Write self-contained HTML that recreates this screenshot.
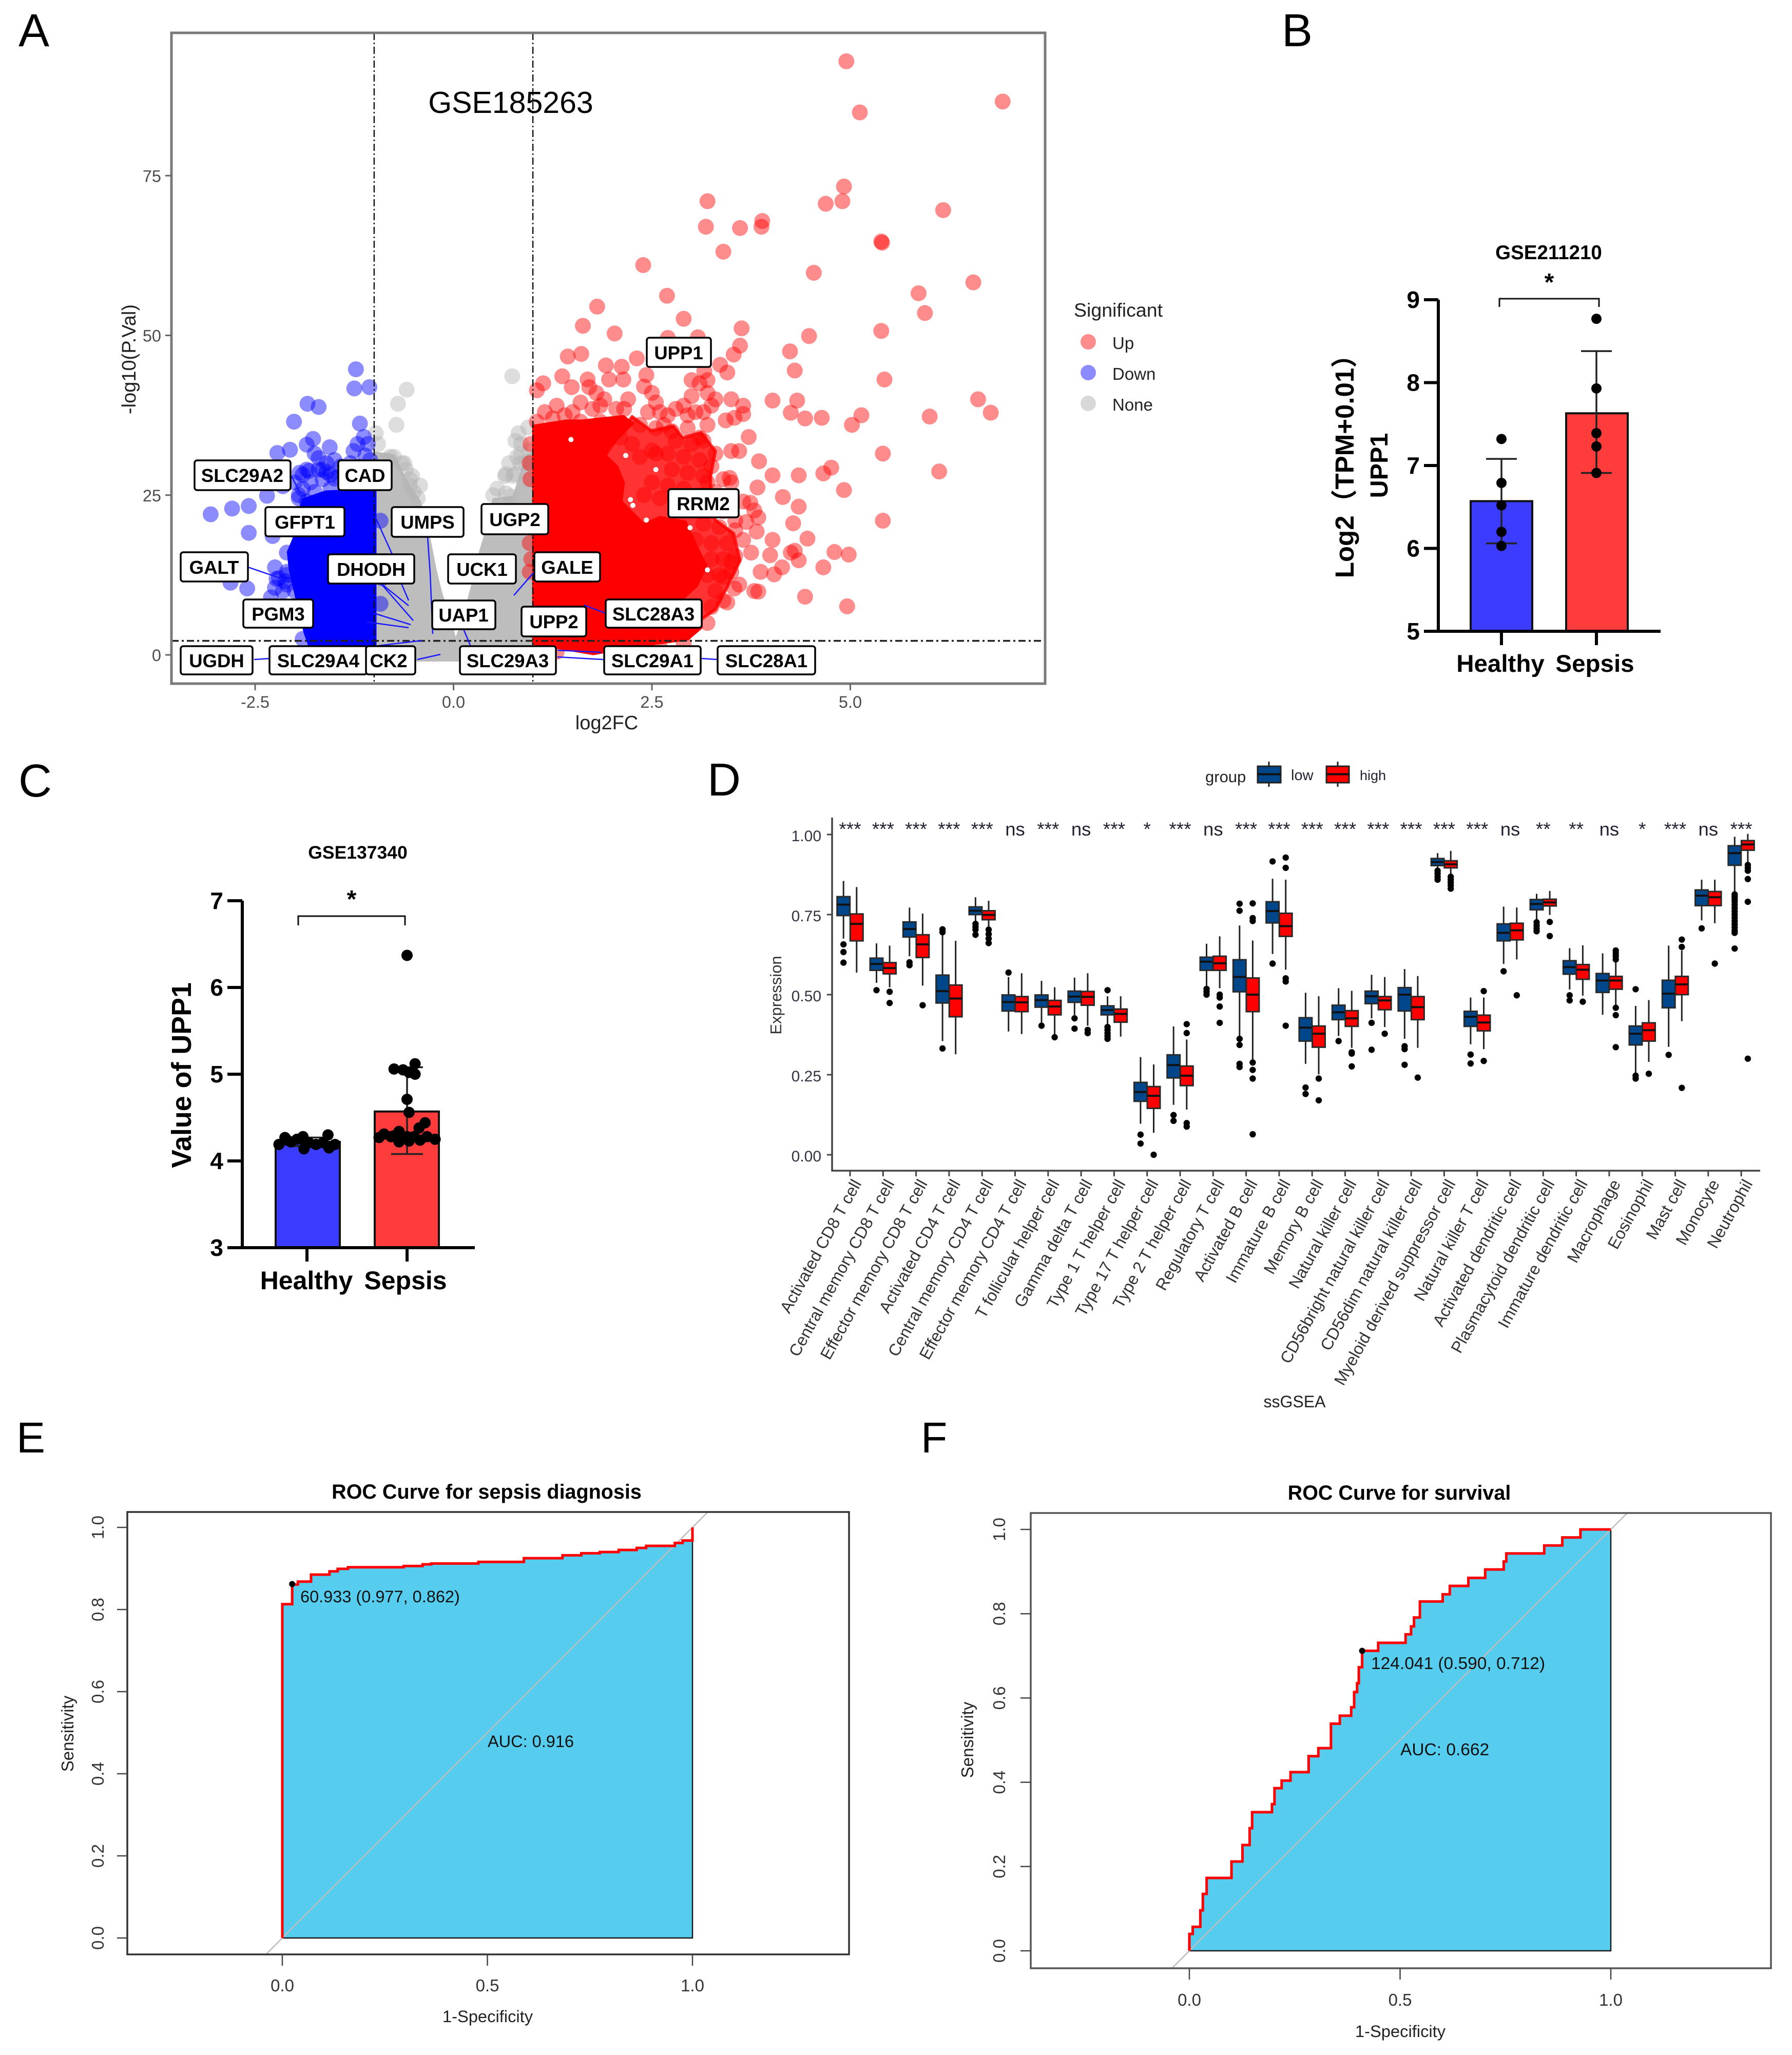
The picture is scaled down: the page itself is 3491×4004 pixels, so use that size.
<!DOCTYPE html>
<html lang="en">
<head>
<meta charset="utf-8">
<title>UPP1 multi-panel figure</title>
<style>
html,body{margin:0;padding:0;background:#fff;width:3491px;height:4004px;overflow:hidden}
svg{display:block}
text{font-family:"Liberation Sans","Noto Sans CJK SC",sans-serif}
.pl{font-size:90px;fill:#000}
.gl rect{fill:#fff;stroke:#000;stroke-width:3.5}
.gl text{font-size:36.5px;font-weight:700;text-anchor:middle;fill:#000}
.ln{stroke:#1a1aff;stroke-width:2.5;fill:none}
</style>
</head>
<body>
<svg id="fig" xmlns="http://www.w3.org/2000/svg" width="3491" height="4004" viewBox="0 0 3491 4004">
<rect width="3491" height="4004" fill="#fff"/>
<text class="pl" x="36" y="90">A</text>
<text class="pl" x="2497" y="90">B</text>
<text class="pl" x="36" y="1552">C</text>
<text class="pl" x="1378" y="1550">D</text>
<text class="pl" x="32" y="2830" style="font-size:84px">E</text>
<text class="pl" x="1794" y="2830" style="font-size:84px">F</text>

<g id="panelA">
<g id="volcanoPoints"></g>
<g id="volcanoAxes"></g>
<g>
<path class="ln" d="M483 1105L568 1134M568 928L586 963M731 1007L764 1080M782 1137L796 1170M833 1046L838 1117L843 1235M742 1137L805 1209M746 1140L796 1180M729 1195L800 1217M715 1212L796 1223M1001 1160L1041 1114M1138 1179L1180 1195M903 1226L916 1257M738 1258L822 1248M813 1285L858 1275M1086 1267L1171 1271M1086 1280L1175 1285M495 1285L525 1283M1367 1283L1398 1285"/>
</g>
<g class="gl">
<g><rect x="379" y="897" width="187" height="58" rx="5"/><text x="472" y="939">SLC29A2</text></g>
<g><rect x="659" y="897" width="104" height="58" rx="5"/><text x="711" y="939">CAD</text></g>
<g><rect x="517" y="988" width="154" height="57" rx="5"/><text x="594" y="1030">GFPT1</text></g>
<g><rect x="763" y="988" width="140" height="58" rx="5"/><text x="833" y="1030">UMPS</text></g>
<g><rect x="938" y="982" width="130" height="59" rx="5"/><text x="1003" y="1025">UGP2</text></g>
<g><rect x="1302" y="953" width="137" height="55" rx="5"/><text x="1370" y="994">RRM2</text></g>
<g><rect x="352" y="1076" width="131" height="57" rx="5"/><text x="417" y="1118">GALT</text></g>
<g><rect x="639" y="1080" width="168" height="57" rx="5"/><text x="723" y="1122">DHODH</text></g>
<g><rect x="873" y="1080" width="132" height="57" rx="5"/><text x="939" y="1122">UCK1</text></g>
<g><rect x="1041" y="1076" width="128" height="57" rx="5"/><text x="1105" y="1118">GALE</text></g>
<g><rect x="474" y="1168" width="136" height="55" rx="5"/><text x="542" y="1209">PGM3</text></g>
<g><rect x="842" y="1170" width="123" height="56" rx="5"/><text x="903" y="1211">UAP1</text></g>
<g><rect x="1016" y="1182" width="126" height="58" rx="5"/><text x="1079" y="1224">UPP2</text></g>
<g><rect x="1180" y="1168" width="187" height="55" rx="5"/><text x="1273" y="1209">SLC28A3</text></g>
<g><rect x="352" y="1259" width="140" height="55" rx="5"/><text x="422" y="1300">UGDH</text></g>
<g><rect x="525" y="1259" width="190" height="55" rx="5"/><text x="620" y="1300">SLC29A4</text></g>
<g><rect x="713" y="1259" width="96" height="55" rx="5"/><text x="757" y="1300">CK2</text></g>
<g><rect x="896" y="1259" width="187" height="55" rx="5"/><text x="989" y="1300">SLC29A3</text></g>
<g><rect x="1177" y="1259" width="188" height="55" rx="5"/><text x="1271" y="1300">SLC29A1</text></g>
<g><rect x="1398" y="1259" width="190" height="55" rx="5"/><text x="1493" y="1300">SLC28A1</text></g>
<g><rect x="1260" y="658" width="125" height="57" rx="5"/><text x="1322" y="700">UPP1</text></g>
</g>
<text x="995" y="220" font-size="59" text-anchor="middle">GSE185263</text>
<text x="1182" y="1421" font-size="38" fill="#222" text-anchor="middle">log2FC</text>
<text transform="translate(264,700) rotate(-90)" font-size="38" fill="#222" text-anchor="middle">-log10(P.Val)</text>
<g>
<text x="2092" y="617" font-size="37.5" fill="#222">Significant</text>
<circle cx="2120" cy="666" r="15" fill="#ff0000" fill-opacity=".45"/>
<text x="2167" y="680" font-size="33" fill="#222">Up</text>
<circle cx="2120" cy="726" r="15" fill="#0000ff" fill-opacity=".45"/>
<text x="2167" y="740" font-size="33" fill="#222">Down</text>
<circle cx="2120" cy="786" r="15" fill="#b8b8b8" fill-opacity=".55"/>
<text x="2167" y="800" font-size="33" fill="#222">None</text>
</g>
</g>

<g id="panelB">
<text x="3017" y="505" font-size="38.5" font-weight="700" text-anchor="middle">GSE211210</text>
<text transform="translate(2637,896) rotate(-90)" font-size="51" font-weight="700" text-anchor="middle">Log2（TPM+0.01）</text>
<text transform="translate(2703,907) rotate(-90)" font-size="48.5" font-weight="700" text-anchor="middle">UPP1</text>
</g>
<g id="panelC">
<text x="697" y="1673" font-size="35.5" font-weight="700" text-anchor="middle">GSE137340</text>
<text transform="translate(372,2095) rotate(-90)" font-size="53.8" font-weight="700" text-anchor="middle">Value of UPP1</text>
</g>

<g id="panelD">
<text x="2348" y="1524" font-size="31" fill="#222">group</text>
<g>
<path d="M2472 1484V1533" stroke="#222" stroke-width="3"/>
<rect x="2450" y="1493" width="45" height="32" fill="#00468b" stroke="#222" stroke-width="3"/>
<path d="M2450 1508.5H2495" stroke="#111" stroke-width="4"/>
<text x="2515" y="1520" font-size="29" fill="#223">low</text>
</g>
<g>
<path d="M2606 1484V1533" stroke="#222" stroke-width="3"/>
<rect x="2584" y="1493" width="44" height="32" fill="#ff0000" stroke="#222" stroke-width="3"/>
<path d="M2584 1508.5H2628" stroke="#111" stroke-width="4"/>
<text x="2649" y="1520" font-size="27" fill="#223">high</text>
</g>
<text transform="translate(1522,1939) rotate(-90)" font-size="31" fill="#333" text-anchor="middle">Expression</text>
<text x="2522" y="2742" font-size="32" fill="#222" text-anchor="middle">ssGSEA</text>
</g>

<g id="panelE">
<text x="948" y="2920" font-size="39.5" font-weight="700" text-anchor="middle">ROC Curve for sepsis diagnosis</text>
<text x="950" y="3940" font-size="32.7" fill="#222" text-anchor="middle">1-Specificity</text>
<text transform="translate(143,3378) rotate(-90)" font-size="33" fill="#222" text-anchor="middle">Sensitivity</text>
</g>
<g id="panelF">
<text x="2726" y="2922" font-size="39.5" font-weight="700" text-anchor="middle">ROC Curve for survival</text>
<text x="2728" y="3969" font-size="32.7" fill="#222" text-anchor="middle">1-Specificity</text>
<text transform="translate(1896,3390) rotate(-90)" font-size="33" fill="#222" text-anchor="middle">Sensitivity</text>
</g>
</svg>

<script>
/* ---------- Panel A: volcano data (log2FC, -log10 P) ---------- */
const volcanoXTicks = [-2.5, 0, 2.5, 5];
const volcanoXTickLabels = ['-2.5', '0.0', '2.5', '5.0'];
const volcanoYTicks = [0, 25, 50, 75];
const volcanoFcCutoffs = [-1, 1];
const volcanoPCutoff = [2.2];
/* dense-cloud outlines */
const noneCloud = [[-.99,31.6],[-.75,31.1],[-.62,27.6],[-.43,24],[-.31,18.2],[-.23,13.2],[-.16,9.6],[-.05,5.7],[.02,2.2],[.04,2.5],[.14,6.1],[.24,10.8],[.34,16.1],[.42,19.4],[.51,24.3],[.76,24.7],[.93,31.2],[1,31.6],[1,-.8],[-1,-.8]];
const downCloud = [[-.99,25.8],[-1.61,25.5],[-1.89,24.3],[-1.99,20.4],[-2.01,18.2],[-2.08,16.1],[-2.06,13.6],[-2.01,10.8],[-1.94,7.1],[-1.87,3.5],[-1.81,1.4],[-.99,1]];
const upOuterCloud = [[2.25,37.3],[2.49,35.1],[2.77,35.8],[2.89,34],[3.12,34.8],[3.3,31.9],[3.24,28],[3.24,25.5],[3.3,21.1],[3.53,19],[3.61,14.7],[3.44,10.4],[3.3,7.1],[3.1,5.4],[2.5,5],[2,20],[1.9,31]];
const upCloud = [[1.01,35.8],[1.42,36.6],[1.62,36.6],[2.14,37.3],[2.25,36.2],[1.96,32.6],[1.91,31.2],[2.06,29.4],[2.14,26.9],[2.11,24],[2.25,22.2],[2.4,20.4],[2.6,21.5],[2.92,20.8],[3.06,16.9],[3.18,14],[3.06,10.8],[2.83,8.2],[3.12,6.8],[3.12,4.3],[2.95,2.5],[2.31,1.4],[1.76,.2],[1.01,1.8]];
const upCloudGaps = [[2.23,24.3],[1.48,33.7],[2.55,29],[2.43,21.1],[2.98,19.9],[3.2,13.3],[2.17,31.2],[2.26,23.4]];
const nonePoints = [[.74,43.6],[-.59,41.5],[-.7,39.3],[-.72,36],[-.98,34.7],[.94,35.6],[.82,34.7],[.78,33.5],[.85,31.5],[.84,30],[.66,28.3],[.78,28.3],[.66,25.3],[.72,24.8],[.55,26],[.65,28],[.7,30],[.75,28],[.8,31],[.85,33],[.95,32],[.9,30],[.5,25],[-.95,33],[-.85,30.5],[-.75,31],[-.65,30],[-.55,27.5],[-.5,25.5],[-.45,24.5],[-.6,29],[-.52,28],[-.42,26.5],[-.62,30],[-.8,31],[-.55,26.5]];
const downPoints = [[-1.23,44.7],[-1.25,41.7],[-1.06,41.9],[-1.84,39.3],[-1.7,38.8],[-2.01,36.5],[-1.18,36.2],[-1.77,33.8],[-1.13,34.1],[-1.85,32.9],[-1.56,32.5],[-2.06,32.1],[-2.22,31.6],[-1.21,33],[-1.08,33],[-1.26,31.9],[-1.7,30.8],[-1.11,31.2],[-1.85,29],[-1.7,29],[-1.6,28.6],[-1.9,28.2],[-2.35,24.9],[-2.15,26.4],[-3.06,22],[-2.79,22.9],[-2.58,23.3],[-2.58,19.1],[-2.28,18.6],[-2.25,13.7],[-2.23,11.9],[-2.81,11.3],[-2.6,10.4],[-2.3,9],[-2.1,13],[-2.12,11.5],[-1.75,31.5],[-1.6,30],[-1.5,30.5],[-1.95,25],[-1.85,24],[-2.05,20],[-2.1,16],[-2,10],[-1.95,6],[-1.9,2.5],[-1.8,27],[-1.65,27.5],[-1.45,28],[-1.3,28.5],[-1.1,28.5],[-1,29],[-1.75,25.5],[-1.55,26],[-1.35,27],[-1.2,29.5],[-1.1,26.5],[-1.9,26],[-1.3,30],[-1.42,29.5],[-1.05,30.5],[-1.2,.8],[-1.05,.8],[-1.35,.5],[-1.94,28.5],[-1.82,28.8],[-1.65,29],[-1.55,28.2],[-1.5,27.6],[-2,27],[-2.2,12],[-2.1,11],[-2.25,10.5],[-2.1,12.5],[-2.15,10],[-.92,21],[-.9,12],[-.92,8],[-1.95,24.5],[-1.6,.6],[-1.7,1]];
const upPoints = [[4.95,92.9],[6.92,86.6],[5.12,84.9],[4.92,73.3],[4.9,71],[4.69,70.6],[6.17,69.6],[3.2,71],[3.18,67],[3.61,66.8],[3.89,67.9],[3.88,67],[5.39,64.7],[5.4,64.5],[3.4,63.1],[2.39,61],[4.54,59.8],[6.55,58.3],[5.86,56.6],[2.69,56.2],[5.94,53.5],[1.81,54.5],[2.9,52.6],[1.63,51.5],[3.63,51.1],[5.39,50.7],[2.03,50.3],[4.48,49.9],[2.7,49.6],[3.08,49.7],[3.61,48.4],[4.24,47.5],[3.53,47],[1.44,46.7],[1.61,47.1],[2.31,46.4],[4.3,44.5],[3.36,45.4],[3.45,44.2],[1.92,45.3],[2.12,45.1],[2.43,43.8],[3.16,44.4],[1.37,43.6],[1.96,43.1],[2.14,43.1],[1.69,43.1],[1.13,42.5],[1.05,41.4],[1.49,41.9],[1.71,41.9],[5.43,43.1],[4.02,39.8],[4.33,39.8],[6.61,40],[6.77,37.9],[4.25,37.9],[4.43,37],[4.64,37.1],[5.14,37.5],[5.02,36],[6,37.3],[3.5,40],[3.65,39],[3.65,37.7],[3.43,36.7],[3.54,37.1],[3.72,34.1],[3.5,31.9],[3.6,31.9],[5.41,31.5],[4.76,29.3],[4.66,28.4],[6.12,28.7],[4.35,28.1],[4.02,28.1],[3.85,30.3],[3.48,27.7],[3.83,26.2],[4.92,25.8],[4.15,24.7],[4.35,23.2],[3.74,23.8],[3.79,22.6],[3.84,21.5],[3.69,20.8],[5.41,21],[4.28,20.6],[3.82,19.3],[4.02,18],[4.46,18.2],[4.8,16.1],[4.98,15.7],[4.3,16.3],[4.35,14.8],[4.25,16],[3.99,15.6],[4.14,13.7],[4.66,13.7],[4.04,12.6],[3.87,13],[3.79,10],[3.84,9.9],[3.54,10.4],[3.5,14.5],[3.4,12.2],[4.43,9.1],[4.96,7.6],[3.45,8.2],
[1.9,40],[1.85,39],[1.75,38.5],[1.8,41],[2.2,40],[2.15,38.5],[2.4,42],[2.5,41],[2.55,39.5],[2.45,38],[2.6,38],[2.7,37.5],[2.8,38.5],[2.9,39],[2.95,37.5],[3.05,38],[3.15,38],[3.25,39],[3.2,41],[3.1,42.5],[3,43],[3.2,43],[3.3,40],[3,40.5],[2.65,36],[2.75,35],[2.55,35.5],[2.35,36],[2.95,35.5],[3.2,36],[2.05,38.5],[1.15,38],[1.3,39],[1.5,38],[1.6,39.5],[1.25,37],[1.4,37.5],[1.6,36.5],[1.85,36.5],[2.8,33.5],[3,33],[3.1,34],[3.15,33.5],[3.3,31.5],[3.25,29.5],[3.15,28],[2.9,31],[2.7,31.5],[2.5,32],[2.35,31],[2.55,31.5],[2.75,29],[2.95,28.5],[3.1,30.5],[3.2,27],[3.4,27.5],[3.5,27],[3.3,25.5],[3.1,25],[2.9,26],[2.7,26.5],[2.5,27],[2.4,25],[2.6,24.5],[2.8,24],[3,23],[3.2,23],[3.4,22.5],[3.55,21],[3.65,24],[3.55,19.5],[3.35,20],[3.15,20.5],[3.05,18],[3.25,17.5],[3.45,17.5],[3.65,18],[3.75,16],[3.55,15.5],[3.4,15],[3.25,15],[3.5,13],[3.35,12.5],[3.2,12.5],[3.6,11],[3.3,10],[3.25,7.5],[3.4,8.5],[3.2,5],[.97,33],[.96,30],[.97,27.5],[.96,13],[.98,15],[.96,17.5],[2.9,1.8],[2.6,1.2],[1.3,.5],[1.05,36.5],[1.95,34.5],[2.1,34],[2.25,33]];

/* ---------- Panels B and C: bars ---------- */
const barGroups = ['Healthy', 'Sepsis'];
const barBTicks = [5, 6, 7, 8, 9];
const barBMeans = [6.57, 7.63];
const barBLower = [6.06, 6.91];
const barBUpper = [7.08, 8.38];
const barBHealthyDots = [7.32, 6.79, 6.52, 6.2, 6.03];
const barBSepsisDots = [8.77, 7.93, 7.39, 7.23, 6.91];
const barCTicks = [3, 4, 5, 6, 7];
const barCMeans = [4.22, 4.57];
const barCLower = [4.17, 4.08];
const barCUpper = [4.27, 5.08];
const barCHealthyDots = [4.19, 4.27, 4.22, 4.25, 4.28, 4.14, 4.21, 4.19, 4.3, 4.15, 4.19, 4.24, 4.23, 4.21];
const barCHealthySwarm = [-.28, -.22, -.16, -.1, -.04, -.03, .02, .09, .21, .22, .28, -.2, -.02, .16];
const barCSepsisDots = [6.37, 5.06, 5.12, 5.05, 5, 5.02, 4.71, 4.56, 4.44, 4.38, 4.27, 4.31, 4.28, 4.34, 4.22, 4.28, 4.23, 4.24, 4.28, 4.25, 4.28, 4.29];
const barCSepsisSwarm = [0, -.13, .08, -.04, .08, .02, 0, .02, .18, .12, -.28, -.23, -.16, -.08, -.08, 0, .02, .13, .2, .28, .07, -.13];

/* ---------- Panel D: boxplots ---------- */
const cellTypes = ['Activated CD8 T cell','Central memory CD8 T cell','Effector memory CD8 T cell','Activated CD4 T cell','Central memory CD4 T cell','Effector memory CD4 T cell','T follicular helper cell','Gamma delta T cell','Type 1 T helper cell','Type 17 T helper cell','Type 2 T helper cell','Regulatory T cell','Activated B cell','Immature B cell','Memory B cell','Natural killer cell','CD56bright natural killer cell','CD56dim natural killer cell','Myeloid derived suppressor cell','Natural killer T cell','Activated dendritic cell','Plasmacytoid dendritic cell','Immature dendritic cell','Macrophage','Eosinophil','Mast cell','Monocyte','Neutrophil'];
const significance = ['***','***','***','***','***','ns','***','ns','***','*','***','ns','***','***','***','***','***','***','***','***','ns','**','**','ns','*','***','ns','***'];
const boxYTicks = [0, .25, .5, .75, 1];
const boxYTickLabels = ['0.00', '0.25', '0.50', '0.75', '1.00'];
const lowMax = [.855,.66,.772,.689,.804,.555,.543,.553,.495,.305,.401,.659,.716,.862,.506,.52,.562,.58,.942,.491,.775,.815,.645,.629,.465,.653,.859,.993];
const lowQ3 = [.806,.614,.727,.561,.774,.499,.499,.511,.465,.226,.312,.617,.609,.79,.428,.467,.511,.522,.925,.448,.721,.797,.606,.566,.402,.545,.827,.965];
const lowMedian = [.781,.596,.705,.511,.762,.477,.483,.494,.452,.196,.28,.603,.555,.761,.397,.445,.495,.5,.914,.431,.693,.783,.586,.544,.378,.503,.809,.942];
const lowQ1 = [.747,.576,.68,.474,.75,.449,.461,.476,.437,.167,.24,.576,.509,.724,.355,.422,.472,.449,.903,.401,.668,.765,.564,.507,.343,.459,.778,.904];
const lowMin = [.675,.537,.62,.355,.73,.385,.41,.436,.408,.097,.156,.528,.371,.627,.284,.371,.426,.362,.891,.345,.596,.735,.516,.437,.256,.337,.732,.82];
const lowOutliers = [[.657,.633,.6],[.514],[.601,.592],[.704,.695,.332],[.721,.712,.703,.687],[.569],[.403],[.426,.394],[.514,.399,.39,.38,.371,.362],[.063,.035],[.124,.106],[.518,.509,.5],[.784,.762,.362,.343,.284,.274],[.916,.597],[.21,.19],[.355],[.412,.328],[.339,.33,.281],[.887,.878,.868,.859],[.313,.285],[.573],[.726,.716,.707,.698],[.498,.482],[],[.517,.247,.238],[.312],[.707],[.813,.805,.797,.79,.78,.77,.76,.75,.74,.73,.72,.71,.7,.693,.644]];
const highMax = [.836,.653,.753,.668,.793,.567,.523,.567,.495,.282,.36,.682,.669,.859,.495,.512,.555,.558,.949,.491,.772,.824,.654,.61,.483,.638,.859,1.002];
const highQ3 = [.752,.6,.687,.53,.762,.494,.482,.51,.455,.213,.277,.62,.552,.754,.402,.45,.494,.494,.918,.436,.723,.798,.594,.557,.412,.557,.822,.981];
const highMedian = [.721,.583,.657,.488,.749,.476,.463,.493,.44,.184,.247,.598,.5,.714,.378,.426,.482,.461,.907,.413,.701,.788,.578,.544,.389,.532,.804,.969];
const highQ1 = [.668,.565,.616,.431,.734,.447,.437,.467,.414,.145,.216,.576,.447,.682,.336,.401,.453,.422,.896,.387,.671,.777,.548,.517,.355,.5,.778,.951];
const highMin = [.569,.523,.528,.314,.712,.377,.371,.403,.369,.069,.141,.52,.293,.578,.251,.334,.399,.334,.873,.33,.61,.749,.497,.468,.29,.417,.723,.914];
const highOutliers = [[],[.509,.474],[.467],[],[.703,.689,.675,.661],[],[.367],[.39,.38],[],[0],[.408,.38,.099,.088],[.5,.491,.463,.412],[.785,.739,.73,.288,.265,.238,.064],[.928,.896,.551,.541,.403],[.238,.17],[.32,.316,.276],[.378],[.241],[.868,.859,.85,.841,.831],[.511,.293],[.498],[.727,.683],[.478],[.638,.629,.62,.61,.459,.436,.336],[.253],[.672,.649,.209],[.597],[.905,.896,.887,.861,.79,.3]];

/* ---------- Panels E and F: ROC step vertices ---------- */
const rocTicksX = [0, .5, 1];
const rocTicksY = [0, .2, .4, .6, .8, 1];
const rocEFpr = [0,0,.024,.038,.07,.115,.135,.16,.296,.342,.363,.478,.589,.683,.729,.774,.82,.864,.887,.957,.976,1];
const rocETpr = [0,.813,.861,.868,.885,.893,.899,.903,.906,.91,.912,.916,.925,.932,.937,.94,.945,.95,.955,.962,.968,1];
const rocFFpr = [0,0,.008,.026,.032,.041,.1,.126,.143,.149,.196,.202,.219,.24,.283,.306,.336,.357,.384,.391,.398,.402,.41,.448,.513,.526,.533,.547,.601,.618,.662,.702,.746,.752,.842,.885,.928,1];
const rocFTpr = [0,.04,.057,.096,.135,.173,.212,.251,.291,.329,.348,.386,.404,.424,.462,.481,.539,.558,.578,.614,.635,.673,.712,.731,.751,.77,.791,.829,.846,.866,.885,.905,.924,.943,.962,.981,1,1];
const rocEBest = [.024, .862];
const rocFBest = [.41, .712];

const NS = 'http://www.w3.org/2000/svg';
function make(tag, attrs, parent) {
  const n = document.createElementNS(NS, tag);
  for (const k in attrs) n.setAttribute(k, attrs[k]);
  parent.appendChild(n);
  return n;
}
function byId(id) { return document.getElementById(id); }

/* ===== Panel A ===== */
(function () {
  const g = byId('volcanoPoints');
  const ax = byId('volcanoAxes');
  const X = v => 883.5 + 154.6 * v;
  const Y = v => 1276 - 12.45 * v;
  const R = 15.5;
  function poly(vertices, fill, opacity) {
    const p = make('polygon', {points: vertices.map(d => X(d[0]) + ',' + Y(d[1])).join(' '), fill: fill, 'fill-opacity': opacity, stroke: fill, 'stroke-opacity': opacity, 'stroke-width': 6, 'stroke-linejoin': 'round'}, g);
    return p;
  }
  const c0 = poly(noneCloud, '#bdbdbd', 1);
  
  
  nonePoints.forEach(d => {
    const c = make('circle', {cx: X(d[0]), cy: Y(d[1]), r: R, fill: '#b4b4b4', 'fill-opacity': .45}, g);
    
    
  });
  const c1 = poly(downCloud, '#0000ff', 1);
  
  
  downPoints.forEach(d => {
    const c = make('circle', {cx: X(d[0]), cy: Y(d[1]), r: R, fill: '#0000ff', 'fill-opacity': .45}, g);
    
    
  });
  const c3 = poly(upOuterCloud, '#ff0000', .8);
  
  
  const c2 = poly(upCloud, '#ff0000', 1);
  
  
  upPoints.forEach(d => {
    const c = make('circle', {cx: X(d[0]), cy: Y(d[1]), r: R, fill: '#ff0000', 'fill-opacity': .45}, g);
    
    
  });
  upCloudGaps.forEach(d => {
    const c = make('circle', {cx: X(d[0]), cy: Y(d[1]), r: 5, fill: '#fff'}, g);
    
    
  });
  volcanoFcCutoffs.forEach(v => {
    const l = make('line', {x1: X(v), x2: X(v), y1: 64, y2: 1332, stroke: '#111', 'stroke-width': 2.5, 'stroke-dasharray': '14 5 3 5'}, ax);
    
    
  });
  volcanoPCutoff.forEach(v => {
    const l = make('line', {x1: 334, x2: 2036, y1: Y(v), y2: Y(v), stroke: '#222', 'stroke-width': 3.5, 'stroke-dasharray': '14 6 4 6'}, ax);
    
    
  });
  const frame = make('rect', {x: 334, y: 64, width: 1702, height: 1268, fill: 'none', stroke: '#7a7a7a', 'stroke-width': 5}, ax);
  
  
  volcanoXTicks.forEach((v, i) => {
    const t = make('line', {x1: X(v), x2: X(v), y1: 1332, y2: 1345, stroke: '#666', 'stroke-width': 3}, ax);
    
    
    const s = make('text', {x: X(v), y: 1379, 'font-size': 32.5, fill: '#4d4d4d', 'text-anchor': 'middle'}, ax);
    
    
    s.textContent = volcanoXTickLabels[i];
  });
  volcanoYTicks.forEach(v => {
    const t = make('line', {x1: 322, x2: 334, y1: Y(v), y2: Y(v), stroke: '#666', 'stroke-width': 3}, ax);
    
    
    const s = make('text', {x: 314, y: Y(v) + 12, 'font-size': 32.5, fill: '#4d4d4d', 'text-anchor': 'end'}, ax);
    
    
    s.textContent = String(v);
  });
})();

/* ===== Panels B, C ===== */
function drawBars(cfg) {
  const g = cfg.group;
  const Y = v => cfg.y0 - (v - cfg.ticks[0]) * cfg.pxPerUnit;
  const top = Y(cfg.ticks[cfg.ticks.length - 1]);
  const bottom = Y(cfg.ticks[0]);
  cfg.means.forEach((m, i) => {
    const bar = make('rect', {x: cfg.barX[i], y: Y(m), width: cfg.barW, height: bottom - Y(m), fill: cfg.fills[i], stroke: '#111', 'stroke-width': 4}, g);
    
    
  });
  cfg.means.forEach((m, i) => {
    const cx = cfg.centers[i];
    const e = make('path', {d: 'M' + (cx - cfg.cap) + ' ' + Y(cfg.upper[i]) + 'H' + (cx + cfg.cap) + 'M' + cx + ' ' + Y(cfg.upper[i]) + 'V' + Y(cfg.lower[i]) + 'M' + (cx - cfg.cap) + ' ' + Y(cfg.lower[i]) + 'H' + (cx + cfg.cap), stroke: '#222', 'stroke-width': 3.5, fill: 'none'}, g);
    
    
  });
  cfg.dots.forEach((list, i) => {
    list.forEach((v, j) => {
      const d = make('circle', {cx: cfg.centers[i] + (cfg.swarm ? cfg.swarm[i][j] * (cfg.centers[1] - cfg.centers[0]) : 0), cy: Y(v), r: cfg.dotR, fill: '#000'}, g);
      
      
    });
  });
  const axes = make('path', {d: 'M' + cfg.axisX + ' ' + top + 'V' + bottom + 'H' + cfg.axisEnd, fill: 'none', stroke: '#000', 'stroke-width': cfg.axisW}, g);
  
  
  cfg.ticks.forEach(v => {
    const t = make('line', {x1: cfg.axisX - cfg.tickLen, x2: cfg.axisX, y1: Y(v), y2: Y(v), stroke: '#000', 'stroke-width': cfg.axisW}, g);
    
    
    const s = make('text', {x: cfg.axisX - cfg.tickLen - 8, y: Y(v) + 16, 'font-size': 46, 'font-weight': 700, 'text-anchor': 'end'}, g);
    
    
    s.textContent = String(v);
  });
  barGroups.forEach((name, i) => {
    const t = make('line', {x1: cfg.centers[i], x2: cfg.centers[i], y1: bottom, y2: bottom + 27, stroke: '#000', 'stroke-width': cfg.axisW}, g);
    
    
    const s = make('text', {x: cfg.labelX[i], y: cfg.labelY, 'font-size': cfg.labelSize, 'font-weight': 700, 'text-anchor': 'middle'}, g);
    
    
    s.textContent = name;
  });
  const b = make('path', {d: 'M' + cfg.bracket[0] + ' ' + cfg.bracket[3] + 'V' + cfg.bracket[2] + 'H' + cfg.bracket[1] + 'V' + cfg.bracket[3], fill: 'none', stroke: '#111', 'stroke-width': 3}, g);
  
  
  const st = make('text', {x: (cfg.bracket[0] + cfg.bracket[1]) / 2, y: cfg.starY, 'font-size': 48, 'font-weight': 700, 'text-anchor': 'middle'}, g);
  
  
  st.textContent = '*';
}
drawBars({group: byId('panelB'), ticks: barBTicks, y0: 1230, pxPerUnit: 161.5, means: barBMeans, upper: barBUpper, lower: barBLower,
  dots: [barBHealthyDots, barBSepsisDots], barX: [2865, 3051], barW: 120, centers: [2925, 3110], fills: ['#3c3cff', '#ff3c3c'], cap: 30,
  dotR: 10, axisX: 2802, axisEnd: 3235, axisW: 6, tickLen: 28, labelX: [2923, 3107], labelY: 1309, labelSize: 47.5, bracket: [2921, 3115, 582, 598], starY: 566});
drawBars({group: byId('panelC'), ticks: barCTicks, y0: 2431, pxPerUnit: 169, means: barCMeans, upper: barCUpper, lower: barCLower,
  dots: [barCHealthyDots, barCSepsisDots], swarm: [barCHealthySwarm, barCSepsisSwarm], barX: [537, 730], barW: 125, centers: [598, 793], fills: ['#3c3cff', '#ff3c3c'], cap: 31,
  dotR: 11, axisX: 472, axisEnd: 925, axisW: 6, tickLen: 29, labelX: [597, 790], labelY: 2512, labelSize: 50, bracket: [581, 789, 1785, 1803], starY: 1768});

/* ===== Panel D ===== */
(function () {
  const g = byId('panelD');
  const X = i => 1656 + 64.3 * i;
  const Y = v => 2250 - 624 * v;
  const off = 12.8, w = 25;
  const axes = make('path', {d: 'M1621 1593V2281H3429', fill: 'none', stroke: '#444', 'stroke-width': 3.5}, g);
  
  
  boxYTicks.forEach((v, i) => {
    const t = make('line', {x1: 1611, x2: 1621, y1: Y(v), y2: Y(v), stroke: '#444', 'stroke-width': 3}, g);
    
    
    const s = make('text', {x: 1600, y: Y(v) + 13, 'font-size': 30, fill: '#334', 'text-anchor': 'end'}, g);
    
    
    s.textContent = boxYTickLabels[i];
  });
  function box(cx, mx, q3, med, q1, mn, outs, fill, who) {
    const wh = make('path', {d: 'M' + cx + ' ' + Y(mx) + 'V' + Y(q3) + 'M' + cx + ' ' + Y(q1) + 'V' + Y(mn), stroke: '#222', 'stroke-width': 3, fill: 'none'}, g);
    
    
    const r = make('rect', {x: cx - w / 2, y: Y(q3), width: w, height: Y(q1) - Y(q3), fill: fill, stroke: '#2a2a2a', 'stroke-width': 3}, g);
    
    
    const m = make('line', {x1: cx - w / 2, x2: cx + w / 2, y1: Y(med), y2: Y(med), stroke: '#111', 'stroke-width': 4}, g);
    
    
    outs.forEach(v => {
      const o = make('circle', {cx: cx, cy: Y(v), r: 6.2, fill: '#000'}, g);
      
      
    });
  }
  cellTypes.forEach((name, i) => {
    const c = X(i);
    box(c - off, lowMax[i], lowQ3[i], lowMedian[i], lowQ1[i], lowMin[i], lowOutliers[i], '#00468b', 'low');
    box(c + off, highMax[i], highQ3[i], highMedian[i], highQ1[i], highMin[i], highOutliers[i], '#ff0000', 'high');
    const t = make('line', {x1: c, x2: c, y1: 2281, y2: 2292, stroke: '#444', 'stroke-width': 3}, g);
    
    
    const s = make('text', {transform: 'translate(' + (c + 23) + ',2306) rotate(-61)', 'font-size': 32.3, fill: '#333', 'text-anchor': 'end'}, g);
    
    
    s.textContent = name;
    const sg = make('text', {x: c, y: 1628, 'font-size': significance[i] === 'ns' ? 36.5 : 37, fill: '#223', 'text-anchor': 'middle'}, g);
    
    
    sg.textContent = significance[i];
  });
})();

/* ===== Panels E, F ===== */
function drawRoc(cfg) {
  const g = cfg.group;
  const X = v => cfg.x0 + cfg.sx * v;
  const Y = v => cfg.y0 - cfg.sy * v;
  const n = cfg.fpr.length;
  let line = 'M' + X(cfg.fpr[0]) + ' ' + Y(cfg.tpr[0]);
  for (let i = 1; i < n; i++) line += 'H' + X(cfg.fpr[i]) + 'V' + Y(cfg.tpr[i]);
  let fillPath = 'M' + X(cfg.fpr[0]) + ' ' + Y(cfg.tpr[0]);
  for (let i = 1; i < n - 1; i++) fillPath += 'H' + X(cfg.fpr[i]) + 'V' + Y(cfg.tpr[i]);
  fillPath += 'H' + X(1) + 'V' + Y(0) + 'Z';
  const area = make('path', {d: fillPath, fill: '#56cdee', stroke: '#1a1a1a', 'stroke-width': 2.5}, g);
  
  
  const diagLow = (cfg.y0 - (cfg.frame[1] + cfg.frame[3])) / cfg.sy;
  const diagHigh = (cfg.y0 - cfg.frame[1]) / cfg.sy;
  const diag = make('line', {x1: X(diagLow), y1: Y(diagLow), x2: X(diagHigh), y2: Y(diagHigh), stroke: '#bdbdbd', 'stroke-width': 2.5}, g);
  
  
  const curve = make('path', {d: line, fill: 'none', stroke: '#ff0000', 'stroke-width': 5}, g);
  
  
  const dot = make('circle', {cx: X(cfg.best[0]), cy: Y(cfg.best[1]), r: 6, fill: '#000'}, g);
  
  
  const frame = make('rect', {x: cfg.frame[0], y: cfg.frame[1], width: cfg.frame[2], height: cfg.frame[3], fill: 'none', stroke: cfg.frameColor, 'stroke-width': 3.5}, g);
  
  
  const bottom = cfg.frame[1] + cfg.frame[3];
  rocTicksX.forEach(v => {
    const t = make('line', {x1: X(v), x2: X(v), y1: bottom, y2: bottom + 22, stroke: '#444', 'stroke-width': 2.5}, g);
    
    
    const s = make('text', {x: X(v), y: cfg.xLabelY, 'font-size': 33, fill: '#333', 'text-anchor': 'middle'}, g);
    
    
    s.textContent = v.toFixed(1);
  });
  rocTicksY.forEach(v => {
    const t = make('line', {x1: cfg.frame[0] - 20, x2: cfg.frame[0], y1: Y(v), y2: Y(v), stroke: '#444', 'stroke-width': 2.5}, g);
    
    
    const s = make('text', {transform: 'translate(' + cfg.yLabelX + ',' + Y(v) + ') rotate(-90)', 'font-size': 33, fill: '#333', 'text-anchor': 'middle'}, g);
    
    
    s.textContent = v.toFixed(1);
  });
  const n1 = make('text', {x: cfg.cutX, y: cfg.cutY, 'font-size': cfg.noteSize, fill: '#111'}, g);
  
  
  n1.textContent = cfg.cutText;
  const n2 = make('text', {x: cfg.aucX, y: cfg.aucY, 'font-size': cfg.noteSize, fill: '#111'}, g);
  
  
  n2.textContent = cfg.aucText;
}
drawRoc({group: byId('panelE'), fpr: rocEFpr, tpr: rocETpr, best: rocEBest, x0: 550, sx: 799, y0: 3776, sy: 800,
  frame: [248, 2946, 1406, 862], frameColor: '#333', xLabelY: 3880, yLabelX: 202,
  noteSize: 32.5, cutX: 585, cutY: 3122, cutText: '60.933 (0.977, 0.862)', aucX: 950, aucY: 3404, aucText: 'AUC: 0.916'});
drawRoc({group: byId('panelF'), fpr: rocFFpr, tpr: rocFTpr, best: rocFBest, x0: 2317, sx: 821, y0: 3801, sy: 821,
  frame: [2008, 2948, 1442, 887], frameColor: '#555', xLabelY: 3908, yLabelX: 1958,
  noteSize: 33.5, cutX: 2671, cutY: 3252, cutText: '124.041 (0.590, 0.712)', aucX: 2728, aucY: 3420, aucText: 'AUC: 0.662'});
</script>
</body>
</html>
